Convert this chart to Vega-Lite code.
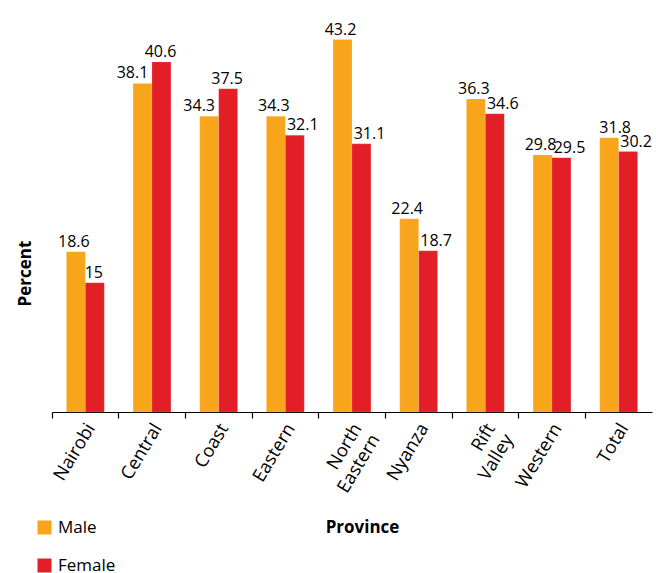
{
  "$schema": "https://vega.github.io/schema/vega-lite/v6.json",
  "width": 600,
  "height": 388,
  "autosize": {"type": "none"},
  "padding": {"left": 52, "top": 24, "right": 4, "bottom": 161},
  "background": "white",
  "config": {
    "view": {"stroke": null},
    "font": "Open Sans"
  },
  "data": {
    "values": [
      {"province": "Nairobi", "sex": "Male", "value": 18.6},
      {"province": "Nairobi", "sex": "Female", "value": 15},
      {"province": "Central", "sex": "Male", "value": 38.1},
      {"province": "Central", "sex": "Female", "value": 40.6},
      {"province": "Coast", "sex": "Male", "value": 34.3},
      {"province": "Coast", "sex": "Female", "value": 37.5},
      {"province": "Eastern", "sex": "Male", "value": 34.3},
      {"province": "Eastern", "sex": "Female", "value": 32.1},
      {"province": "North Eastern", "sex": "Male", "value": 43.2},
      {"province": "North Eastern", "sex": "Female", "value": 31.1},
      {"province": "Nyanza", "sex": "Male", "value": 22.4},
      {"province": "Nyanza", "sex": "Female", "value": 18.7},
      {"province": "Rift Valley", "sex": "Male", "value": 36.3},
      {"province": "Rift Valley", "sex": "Female", "value": 34.6},
      {"province": "Western", "sex": "Male", "value": 29.8},
      {"province": "Western", "sex": "Female", "value": 29.5},
      {"province": "Total", "sex": "Male", "value": 31.8},
      {"province": "Total", "sex": "Female", "value": 30.2}
    ]
  },
  "encoding": {
    "x": {
      "field": "province",
      "type": "nominal",
      "sort": null,
      "scale": {"paddingInner": 0, "paddingOuter": 0},
      "axis": {
        "title": "Province",
        "titleFont": "Open Sans",
        "titleFontSize": 17,
        "titleFontWeight": "bold",
        "titleColor": "black",
        "titleX": 310,
        "titleY": 115,
        "titleBaseline": "middle",
        "titleAlign": "center",
        "bandPosition": 0,
        "labelOffset": 6,
        "labelAngle": -59,
        "labelAlign": "right",
        "labelBaseline": "middle",
        "labelPadding": 7,
        "labelFontSize": 18.3,
        "labelColor": "black",
        "labelExpr": "split(datum.label, ' ')",
        "labelLineHeight": 21,
        "domainColor": "black",
        "domainWidth": 1.2,
        "tickColor": "black",
        "tickWidth": 1.2,
        "tickSize": 6
      }
    },
    "xOffset": {
      "field": "sex",
      "type": "nominal",
      "sort": ["Male", "Female"],
      "scale": {"paddingInner": 0, "paddingOuter": 0.76}
    },
    "y": {
      "field": "value",
      "type": "quantitative",
      "scale": {"domain": [0, 45], "nice": false},
      "axis": {
        "title": "Percent",
        "titleFont": "Open Sans",
        "titleFontSize": 17,
        "titleFontWeight": "bold",
        "titleColor": "black",
        "titleX": -27,
        "titleY": 249,
        "titleAngle": -90,
        "titleAlign": "center",
        "titleBaseline": "middle",
        "labels": false,
        "ticks": false,
        "domain": false,
        "grid": false
      }
    }
  },
  "layer": [
    {
      "mark": {"type": "bar", "stroke": "white", "strokeWidth": 0.3, "strokeOpacity": 0.5},
      "encoding": {
        "color": {
          "field": "sex",
          "type": "nominal",
          "sort": ["Male", "Female"],
          "scale": {"domain": ["Male", "Female"], "range": ["#F8A51C", "#E41E26"]},
          "legend": {
            "title": null,
            "orient": "none",
            "legendX": -16,
            "legendY": 495,
            "direction": "vertical",
            "symbolType": "square",
            "symbolSize": 196,
            "symbolStrokeWidth": 0,
            "labelFontSize": 17,
            "labelFont": "Open Sans",
            "labelColor": "black",
            "labelOffset": 5,
            "rowPadding": 20
          }
        }
      }
    },
    {
      "transform": [
        {"filter": {"field": "sex", "equal": "Male"}},
        {"filter": {"not": {"field": "province", "oneOf": ["Central", "Coast", "Total"]}}}
      ],
      "mark": {"type": "text", "baseline": "alphabetic", "dy": -5, "dx": -2, "fontSize": 16, "font": "Open Sans", "color": "black"},
      "encoding": {"text": {"field": "value", "type": "quantitative"}}
    },
    {
      "transform": [
        {"filter": {"field": "sex", "equal": "Male"}},
        {"filter": {"field": "province", "oneOf": ["Central", "Coast"]}}
      ],
      "mark": {"type": "text", "baseline": "alphabetic", "dy": -5, "dx": -10, "fontSize": 16, "font": "Open Sans", "color": "black"},
      "encoding": {"text": {"field": "value", "type": "quantitative"}}
    },
    {
      "transform": [
        {"filter": {"field": "sex", "equal": "Male"}},
        {"filter": {"field": "province", "oneOf": ["Total"]}}
      ],
      "mark": {"type": "text", "baseline": "alphabetic", "dy": -5, "dx": 6, "fontSize": 16, "font": "Open Sans", "color": "black"},
      "encoding": {"text": {"field": "value", "type": "quantitative"}}
    },
    {
      "transform": [
        {"filter": {"field": "sex", "equal": "Female"}},
        {"filter": {"field": "province", "oneOf": ["Nairobi", "Central", "Coast"]}}
      ],
      "mark": {"type": "text", "baseline": "alphabetic", "dy": -5, "dx": -1, "fontSize": 16, "font": "Open Sans", "color": "black"},
      "encoding": {"text": {"field": "value", "type": "quantitative"}}
    },
    {
      "transform": [
        {"filter": {"field": "sex", "equal": "Female"}},
        {"filter": {"not": {"field": "province", "oneOf": ["Nairobi", "Central", "Coast"]}}}
      ],
      "mark": {"type": "text", "baseline": "alphabetic", "dy": -5, "dx": 8, "fontSize": 16, "font": "Open Sans", "color": "black"},
      "encoding": {"text": {"field": "value", "type": "quantitative"}}
    }
  ]
}
